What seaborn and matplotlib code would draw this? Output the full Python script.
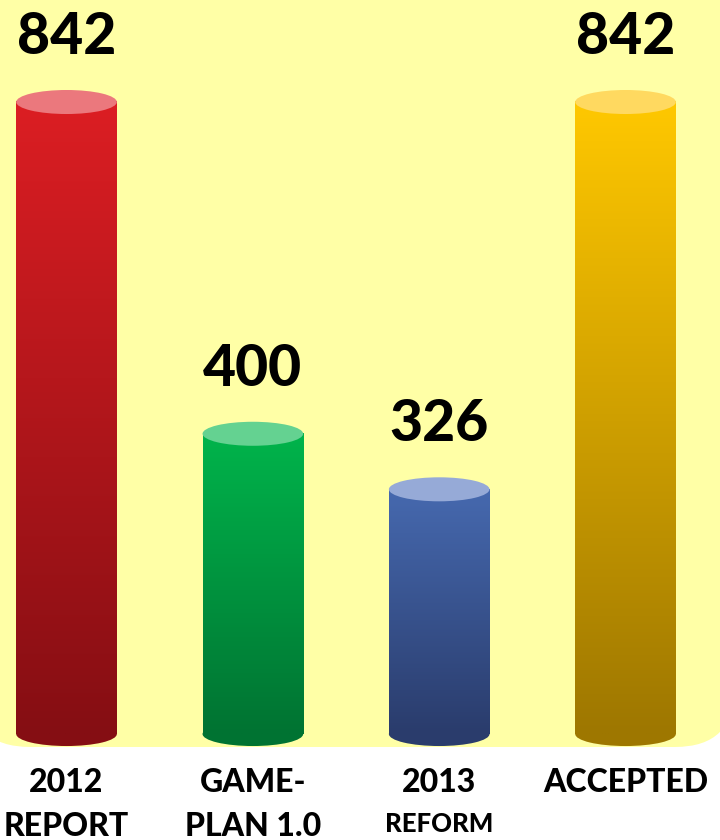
import numpy as np
import matplotlib
matplotlib.use("Agg")
import matplotlib.pyplot as plt
import matplotlib.transforms as mtransforms
from matplotlib.patches import FancyBboxPatch, Ellipse
from matplotlib.colors import LinearSegmentedColormap
import seaborn as sns

# ---- data ----
categories = ["2012\nREPORT", "GAME-\nPLAN 1.0", "2013\nREFORM", "ACCEPTED"]
values = [842, 400, 326, 842]

# ---- style ----
top_colors = ["#DC1E23", "#00B44B", "#4669AF", "#FFC800"]
bottom_colors = ["#850E13", "#007332", "#2A3C6C", "#9E7700"]
cap_colors = ["#EB787D", "#64D291", "#96AAD7", "#FFD960"]
bg_color = "#FFFFA6"

sns.set_style("white")
plt.rcParams["font.family"] = ["Lato", "DejaVu Sans"]

fig = plt.figure(figsize=(7.2, 8.4), dpi=100)
fig.patch.set_facecolor("white")

# background with rounded bottom corners (pixel coordinates)
bg = fig.add_axes([0, 0, 1, 1], zorder=0)
bg.set_xlim(0, 720)
bg.set_ylim(840, 0)
bg.axis("off")
bg.add_patch(FancyBboxPatch((-30, -200), 765, 947,
                            boxstyle="round,pad=0,rounding_size=60",
                            facecolor=bg_color, edgecolor="none"))

ax = fig.add_axes([0, 0, 1, 1], zorder=1)
ax.patch.set_alpha(0)
sns.barplot(x=categories, y=values, ax=ax, width=0.54, color="#cccccc")
ax.set_xlim(-0.357, 3.507)
ax.set_ylim(-141.2, 977.9)

ell_h = 32
for i, p in enumerate(ax.patches):
    x0, w, h = p.get_x(), p.get_width(), p.get_height()
    p.set_visible(False)
    cm = LinearSegmentedColormap.from_list(f"g{i}", [bottom_colors[i], top_colors[i]])
    grad = np.linspace(0, 1, 256).reshape(-1, 1)
    ax.imshow(grad, extent=[x0, x0 + w, 0, h], origin="lower", cmap=cm,
              aspect="auto", zorder=3, interpolation="bilinear")
    ax.add_patch(Ellipse((x0 + w / 2, 0), w, ell_h, facecolor=bottom_colors[i],
                         edgecolor="none", zorder=2))
    ax.add_patch(Ellipse((x0 + w / 2, h), w, ell_h, facecolor=cap_colors[i],
                         edgecolor="none", zorder=4))
    ax.annotate(f"{values[i]}", (x0 + w / 2, h), xytext=(0, 34.5),
                textcoords="offset points", ha="center", va="baseline",
                fontsize=41, fontweight="black", color="black", zorder=5)

ax.set_xlim(-0.357, 3.507)
ax.set_ylim(-141.2, 977.9)
ax.axis("off")

trans = mtransforms.blended_transform_factory(ax.transData, bg.transData)
for i, cat in enumerate(categories):
    lines = cat.split("\n")
    ax.text(i, 792, lines[0], transform=trans, ha="center", va="baseline",
            fontsize=23, fontweight="black", color="black")
    if len(lines) > 1:
        small = lines[1] == "REFORM"
        ax.text(i, 832 if small else 836, lines[1], transform=trans, ha="center",
                va="baseline", fontsize=18.5 if small else 23, fontweight="black",
                color="black")

fig.savefig("out.png", dpi=100, facecolor="white")
